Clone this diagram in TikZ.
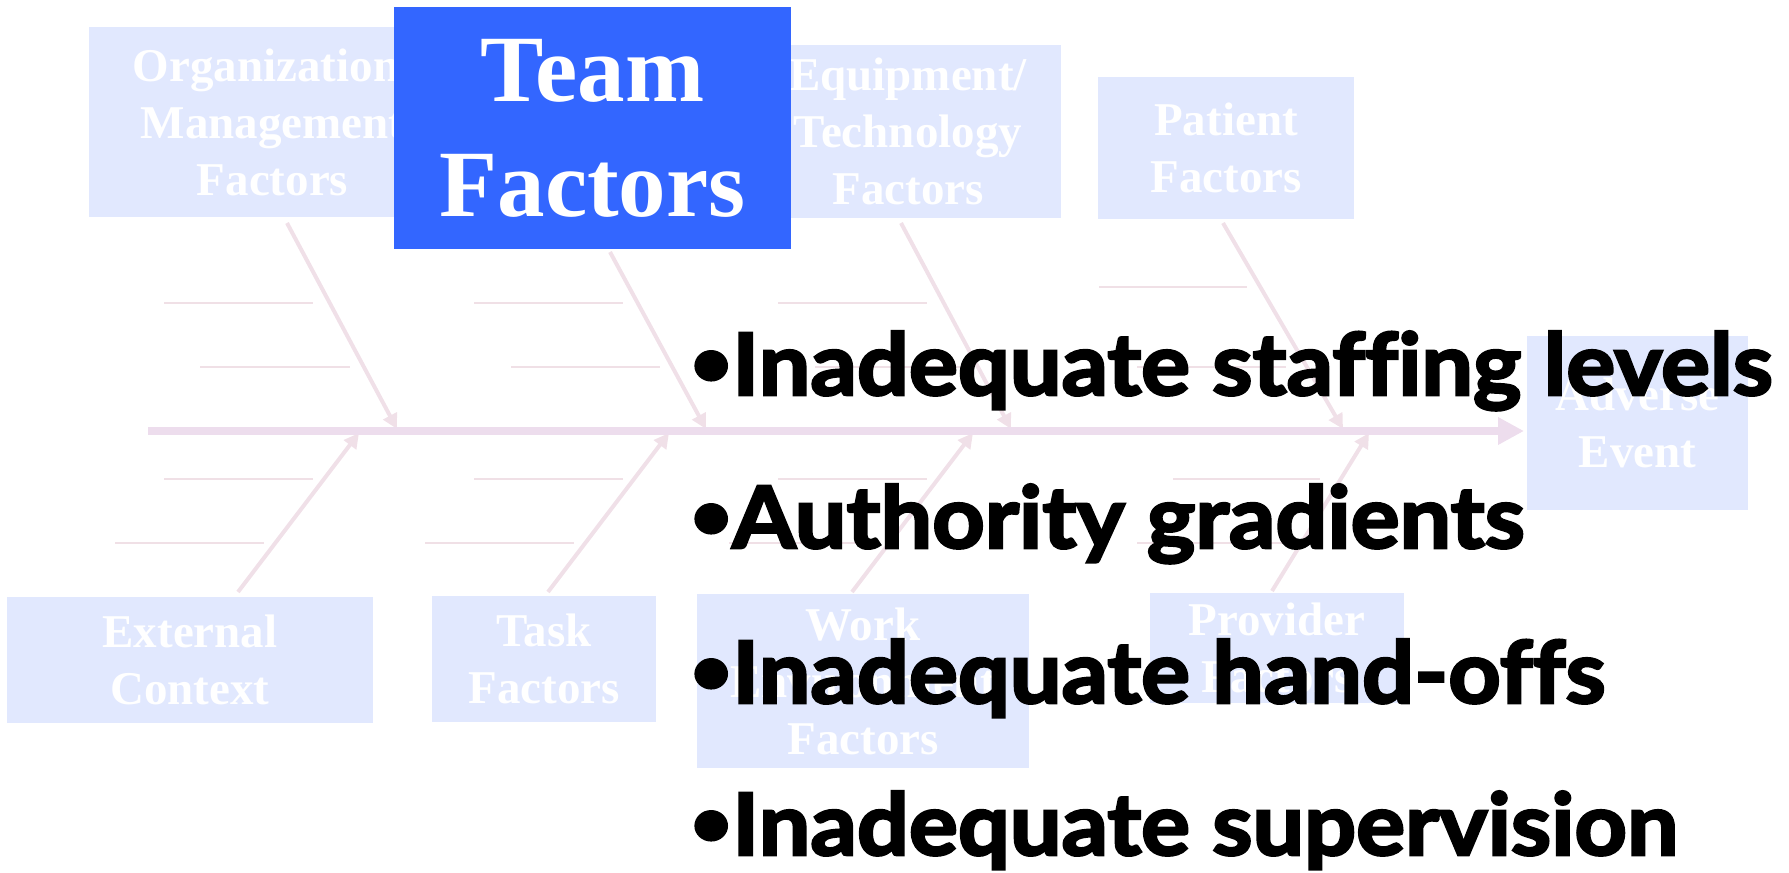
\documentclass[tikz,border=0pt]{standalone}
\usepackage{fontspec}
\setmainfont{Liberation Serif}
\newfontfamily\bulletfont{Lato}[FakeStretch=1.065, Ligatures=NoCommon, BoldFeatures={FakeBold=3}]
\usetikzlibrary{arrows.meta}
\definecolor{teamblue}{HTML}{3366FF}
\definecolor{boxfill}{HTML}{E1E8FE}
\definecolor{spinecol}{HTML}{EDDDED}
\definecolor{bonecol}{HTML}{F0E0E8}
\definecolor{ribcol}{HTML}{F0E0E6}
% a slightly smaller, raised list bullet
\newcommand\factorbullet{{\fontsize{68}{68}\selectfont\raisebox{9pt}{•}}}
\begin{document}
\begin{tikzpicture}[x=1pt,y=-1pt,
  factorbox/.style={fill=boxfill, draw=none, text=white, align=center, inner sep=0pt,
    font=\bfseries\fontsize{47}{57}\selectfont},
  teambox/.style={fill=teamblue, draw=none, text=white, align=center, inner sep=0pt,
    font=\bfseries\fontsize{95}{115}\selectfont},
  bone/.style={draw=bonecol, line width=4pt, -{Triangle[length=15pt,width=15pt]}},
  rib/.style={draw=ribcol, line width=2pt},
  spine/.style={draw=spinecol, line width=8pt, -{Triangle[length=26pt,width=26pt]}},
  bullet/.style={anchor=base west, inner sep=0pt, text=black,
    font=\bulletfont\bfseries\fontsize{86}{100}\selectfont}
]
\useasboundingbox (0,0) rectangle (1789,873);

% cause boxes (the team box sits on top of its neighbours)
\node[factorbox, minimum width=367pt, minimum height=190pt] (org) at (272.5,122) {Organization/\\Management\\Factors};
\node[factorbox, minimum width=306pt, minimum height=173pt] (equip) at (908,131.5) {Equipment/\\Technology\\Factors};
\node[teambox, minimum width=397pt, minimum height=242pt] (team) at (592.5,128) {Team\\Factors};
\node[factorbox, minimum width=256pt, minimum height=142pt] (patient) at (1226,148) {Patient\\Factors};
\node[factorbox, minimum width=221pt, minimum height=174pt] (adverse) at (1637.5,423) {Adverse\\Event};
\node[factorbox, minimum width=366pt, minimum height=126pt] (external) at (190,660) {External\\Context};
\node[factorbox, minimum width=224pt, minimum height=126pt] (task) at (544,659) {Task\\Factors};
\node[factorbox, minimum width=332pt, minimum height=174pt] (work) at (863,681) {Work\\Environment\\Factors};
\node[factorbox, minimum width=254pt, minimum height=110pt] (provider) at (1277,648) {Provider\\Factors};

% ribs along the bones
\foreach \xa/\xb/\yy in {164/313/303, 474/623/303, 778/927/303, 1099/1247/287,
                         200/350/367, 511/660/367, 815/964/367, 1137/1286/367,
                         164/313/479, 474/623/479, 778/927/479, 1173/1320/479,
                         115/264/543, 425/574/543, 729/878/543, 1137/1286/543}
  \draw[rib] (\xa,\yy) -- (\xb,\yy);

% bone end points
\coordinate (orgT) at (287,223);      \coordinate (orgH) at (397,429);
\coordinate (teamT) at (610,252);     \coordinate (teamH) at (706,429);
\coordinate (equipT) at (901,223);    \coordinate (equipH) at (1011,429);
\coordinate (patientT) at (1223,223); \coordinate (patientH) at (1343,429);
\coordinate (externalT) at (238,592); \coordinate (externalH) at (359,433);
\coordinate (taskT) at (548,592);     \coordinate (taskH) at (669,433);
\coordinate (workT) at (852,592);     \coordinate (workH) at (973,433);
\coordinate (providerT) at (1272,591);\coordinate (providerH) at (1369,433);

\foreach \b in {org,team,equip,patient,external,task,work,provider}
  \draw[bone] (\b T) -- (\b H);

% spine towards the outcome
\coordinate (spineL) at (148,431);
\coordinate (spineR) at (1524,431);
\draw[spine] (spineL) -- (spineR);

% team factor list
\node[bullet] (b1) at (690,395) {\factorbullet Inadequate staffing levels};
\node[bullet] (b2) at (690,548) {\factorbullet Authority gradients};
\node[bullet] (b3) at (690,703) {\factorbullet Inadequate hand-offs};
\node[bullet] (b4) at (690,855) {\factorbullet Inadequate supervision};
\end{tikzpicture}
\end{document}
